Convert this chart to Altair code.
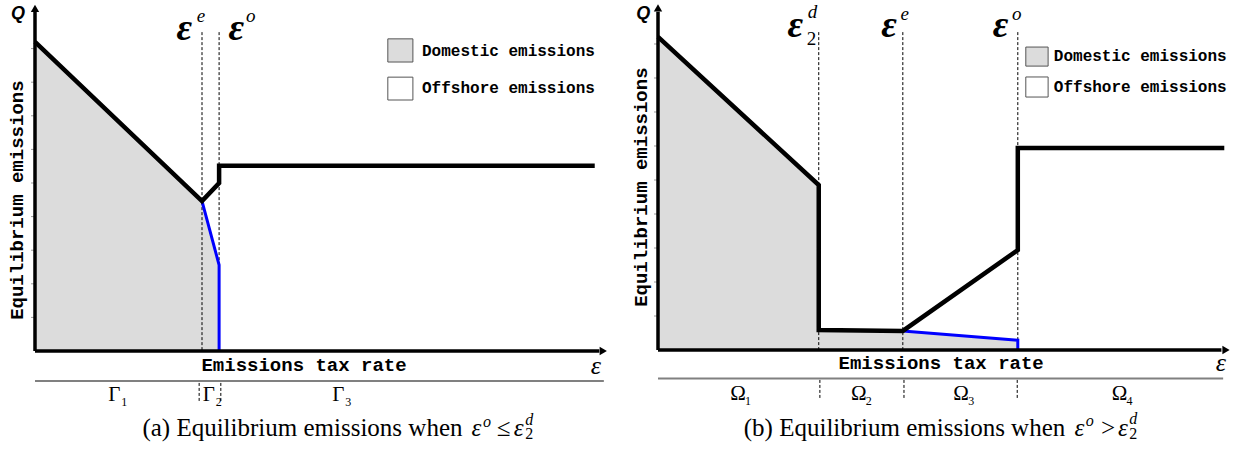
import altair as alt
import pandas as pd

# ---------------- values (ε = tax rate, Q = emissions) ----------------
# panel (a)
A_TOTAL_EPS = [0.0, 2.93, 3.23, 3.23, 9.82]
A_TOTAL_Q = [9.20, 4.46, 5.00, 5.51, 5.51]
A_DOM_EPS = [0.0, 2.93, 3.23, 3.23]
A_DOM_Q = [9.20, 4.46, 2.56, 0.0]
A_THRESH_EPS = [2.93, 3.23]
A_REGION_EDGES = [2.88, 3.26]
A_REGION_CENTERS = [1.39, 3.05, 5.32]
A_REGION_SUBS = ["1", "2", "3"]

# panel (b)
B_TOTAL_EPS = [0.0, 2.81, 2.81, 4.28, 6.29, 6.29, 9.90]
B_TOTAL_Q = [9.21, 4.85, 0.59, 0.56, 2.94, 5.94, 5.94]
B_DOM_EPS = [0.0, 2.81, 2.81, 4.28, 6.29, 6.29]
B_DOM_Q = [9.21, 4.85, 0.59, 0.56, 0.29, 0.0]
B_THRESH_EPS = [2.81, 4.28, 6.29]
B_REGION_EDGES = [2.83, 4.30, 6.28]
B_REGION_CENTERS = [1.40, 3.51, 5.30, 8.07]
B_REGION_SUBS = ["1", "2", "3", "4"]

Y_TICKS = [1, 2, 3, 4, 5, 6, 7, 8, 9]
LEGEND_LABELS = ["Domestic emissions", "Offshore emissions"]
LEGEND_FILLS = ["#dcdcdc", "#ffffff"]

# ---------------- layout (positions in data units of each panel) ----------------
LAYOUT_A = dict(
    width=623, xdom=[-0.614, 10.316], ydom=[-2.946, 10.446],
    ytop=10.1, xend=9.9, yarrow=10.2, xarrow=9.97, dash_top=9.49, tick_len=0.07,
    band_y=-0.89, band_end=9.98, band_dash=(-0.95, -1.53), region_y=-1.31,
    greek="Γ", off_start=A_THRESH_EPS[0],
    q_label=(-0.30, 10.03), ytitle=(-0.32, 4.49), xtitle=(4.72, -0.42), eps_end=(9.84, -0.45),
    thresh_glyph=[(2.62, 9.58), (3.53, 9.58)], thresh_sup=[(2.84, 9.98, "e"), (3.70, 9.98, "o")],
    thresh_sub=[],
    legend_x=(6.19, 6.63), legend_boxes=[(9.29, 8.60), (8.15, 7.47)], legend_tx=6.79, legend_ty=[8.93, 7.83],
    cap_words=(7.50, -2.29, "(a) Equilibrium emissions when"),
    cap_math=[(7.66, -2.29, "ε"), (8.10, -2.29, "≤"), (8.40, -2.29, "ε")],
    cap_sup=[(7.86, -2.10, "o"), (8.60, -2.04, "d")],
    cap_sub=[(8.60, -2.48, "2")],
)
LAYOUT_B = dict(
    width=624, xdom=[-0.612, 10.297], ydom=[-2.941, 10.294],
    ytop=9.95, xend=9.85, yarrow=10.06, xarrow=9.93, dash_top=9.35, tick_len=0.07,
    band_y=-0.84, band_end=9.88, band_dash=(-0.88, -1.41), region_y=-1.28,
    greek="Ω", off_start=B_THRESH_EPS[1],
    q_label=(-0.26, 9.88), ytitle=(-0.30, 4.79), xtitle=(4.95, -0.38), eps_end=(9.84, -0.38),
    thresh_glyph=[(2.40, 9.53), (4.04, 9.53), (5.99, 9.53)],
    thresh_sup=[(2.62, 9.93, "d"), (4.24, 9.88, "e"), (6.19, 9.88, "o")],
    thresh_sub=[(2.60, 9.16, "2")],
    legend_x=(6.43, 6.82), legend_boxes=[(8.91, 8.35), (8.03, 7.44)], legend_tx=6.92, legend_ty=[8.65, 7.74],
    cap_words=(7.12, -2.29, "(b) Equilibrium emissions when"),
    cap_math=[(7.28, -2.29, "ε"), (7.72, -2.29, ">"), (8.04, -2.29, "ε")],
    cap_sup=[(7.48, -2.10, "o"), (8.24, -2.04, "d")],
    cap_sub=[(8.24, -2.48, "2")],
)

SERIF = "Liberation Serif"
MONO = "Liberation Mono"
SANS = "Liberation Sans"


def panel(total_eps, total_q, dom_eps, dom_q, thresh, edges, centers, subs, L):
    xs = alt.Scale(domain=L["xdom"], nice=False, zero=False)
    ys = alt.Scale(domain=L["ydom"], nice=False, zero=False)

    def X(f):
        return alt.X(f"{f}:Q", scale=xs, axis=None)

    def Y(f, **kw):
        return alt.Y(f"{f}:Q", scale=ys, axis=None, **kw)

    def txt(rows, **kw):
        df = pd.DataFrame(rows, columns=["x", "y", "t"])
        return alt.Chart(df).mark_text(**kw).encode(x=X("x"), y=Y("y"), text="t:N")

    dom = pd.DataFrame({"x": dom_eps, "y": dom_q, "i": range(len(dom_eps))})
    off = dom[dom["x"] >= L["off_start"]]
    tot = pd.DataFrame({"x": total_eps, "y": total_q, "i": range(len(total_eps))})

    # split the domestic curve at its vertical drops so each area piece has distinct x values
    seg = (dom["x"].diff() == 0).cumsum()
    dom_seg = dom.assign(seg=seg)
    dom_seg = dom_seg[dom_seg.groupby("seg")["x"].transform("size") > 1]

    fill = alt.Chart(dom_seg).mark_area(color="#dcdcdc", fillOpacity=1, opacity=1).encode(
        x=X("x"), y=Y("y", stack=None), detail="seg:N")

    ticks = alt.Chart(pd.DataFrame({"y": Y_TICKS, "a": -L["tick_len"], "b": 0.0})).mark_rule(
        color="#9a9a9a", strokeWidth=1).encode(x=X("a"), x2="b:Q", y=Y("y"))

    dash = alt.Chart(pd.DataFrame({"x": thresh, "a": L["dash_top"], "b": 0.0})).mark_rule(
        color="black", strokeWidth=1, strokeDash=[3, 2]).encode(x=X("x"), y=Y("a"), y2="b:Q")

    band_dash = alt.Chart(pd.DataFrame({"x": edges, "a": L["band_dash"][0], "b": L["band_dash"][1]})).mark_rule(
        color="black", strokeWidth=1, strokeDash=[3, 2]).encode(x=X("x"), y=Y("a"), y2="b:Q")

    band = alt.Chart(pd.DataFrame({"a": [0.0], "b": [L["band_end"]], "y": [L["band_y"]]})).mark_rule(
        color="#808080", strokeWidth=2).encode(x=X("a"), x2="b:Q", y=Y("y"))

    blue = alt.Chart(off).mark_line(color="#0000ff", strokeWidth=3).encode(x=X("x"), y=Y("y"), order="i:Q")
    black = alt.Chart(tot).mark_line(color="black", strokeWidth=4.5, strokeJoin="miter").encode(
        x=X("x"), y=Y("y"), order="i:Q")

    axes = alt.Chart(pd.DataFrame({
        "x": [0.0, 0.0], "x2": [0.0, L["xend"]], "y": [0.0, 0.0], "y2": [L["ytop"], 0.0]
    })).mark_rule(color="black", strokeWidth=3.5).encode(x=X("x"), x2="x2:Q", y=Y("y"), y2="y2:Q")

    arrows = alt.Chart(pd.DataFrame({
        "x": [0.0, L["xarrow"]], "y": [L["yarrow"], 0.0], "s": ["triangle-up", "triangle-right"]
    })).mark_point(filled=True, color="black", opacity=1, size=70).encode(
        x=X("x"), y=Y("y"), shape=alt.Shape("s:N", scale=None))

    legend_boxes = alt.Chart(pd.DataFrame({
        "a": [L["legend_x"][0]] * 2, "b": [L["legend_x"][1]] * 2,
        "y": [r[0] for r in L["legend_boxes"]], "y2": [r[1] for r in L["legend_boxes"]],
        "f": LEGEND_FILLS,
    })).mark_rect(stroke="#555555", strokeWidth=1).encode(
        x=X("a"), x2="b:Q", y=Y("y"), y2="y2:Q", fill=alt.Fill("f:N", scale=None))

    layers = [fill, ticks, dash, band, band_dash, blue, black, axes, arrows, legend_boxes]

    layers.append(txt([(L["legend_tx"], ty, lab) for ty, lab in zip(L["legend_ty"], LEGEND_LABELS)],
                      font=MONO, fontWeight="bold", fontSize=16, align="left", baseline="middle"))
    layers.append(txt([(*L["q_label"], "Q")], font=SANS, fontWeight="bold", fontStyle="italic",
                      fontSize=18, align="center", baseline="middle"))
    layers.append(txt([(*L["ytitle"], "Equilibrium emissions")], font=MONO, fontWeight="bold",
                      fontSize=19, angle=270, align="center", baseline="middle"))
    layers.append(txt([(*L["xtitle"], "Emissions tax rate")], font=MONO, fontWeight="bold",
                      fontSize=19, align="center", baseline="middle"))
    layers.append(txt([(*L["eps_end"], "ε")], font=SERIF, fontStyle="italic", fontSize=26,
                      align="center", baseline="middle"))
    # threshold labels
    layers.append(txt([(gx, gy, "ε") for gx, gy in L["thresh_glyph"]], font=SERIF, fontStyle="italic",
                      fontWeight="bold", fontSize=38, align="center", baseline="middle"))
    layers.append(txt(L["thresh_sup"], font=SERIF, fontStyle="italic", fontSize=19,
                      align="left", baseline="middle"))
    if L["thresh_sub"]:
        layers.append(txt(L["thresh_sub"], font=SERIF, fontSize=19, align="left", baseline="middle"))
    # region labels
    layers.append(txt([(c, L["region_y"], L["greek"]) for c in centers], font=SERIF, fontSize=21,
                      align="center", baseline="middle"))
    layers.append(txt([(c, L["region_y"], s) for c, s in zip(centers, subs)], font=SERIF, fontSize=12,
                      align="left", baseline="middle", dx=7, dy=7))
    # caption
    layers.append(txt([L["cap_words"]], font=SERIF, fontSize=25, align="right", baseline="middle"))
    layers.append(txt(L["cap_math"], font=SERIF, fontStyle="italic", fontSize=25, align="left",
                      baseline="middle"))
    layers.append(txt(L["cap_sup"], font=SERIF, fontStyle="italic", fontSize=16, align="left",
                      baseline="middle"))
    layers.append(txt(L["cap_sub"], font=SERIF, fontSize=16, align="left", baseline="middle"))

    return alt.layer(*layers).properties(width=L["width"], height=450)


pa = panel(A_TOTAL_EPS, A_TOTAL_Q, A_DOM_EPS, A_DOM_Q, A_THRESH_EPS, A_REGION_EDGES,
           A_REGION_CENTERS, A_REGION_SUBS, LAYOUT_A)
pb = panel(B_TOTAL_EPS, B_TOTAL_Q, B_DOM_EPS, B_DOM_Q, B_THRESH_EPS, B_REGION_EDGES,
           B_REGION_CENTERS, B_REGION_SUBS, LAYOUT_B)

chart = alt.hconcat(pa, pb, spacing=0).properties(padding=0).configure_view(stroke=None)
chart.save("out.html", embed_options={"renderer": "svg", "actions": False})
